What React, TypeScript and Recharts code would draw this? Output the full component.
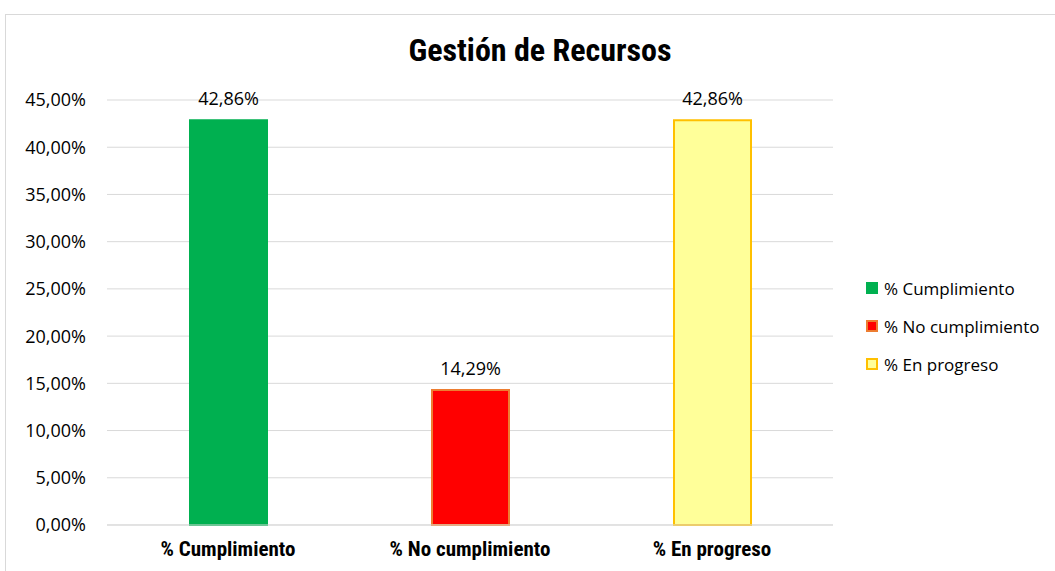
import { BarChart, Bar, CartesianGrid, XAxis, YAxis, LabelList, Cell } from "recharts";

const categories = ["% Cumplimiento", "% No cumplimiento", "% En progreso"];
const values = [0.4286, 0.1429, 0.4286];
const fills = ["#00B050", "#FF0000", "#FFFF99"];
const strokes = ["#00B050", "#ED7D31", "#FFC000"];
const yTicks = [0, 0.05, 0.1, 0.15, 0.2, 0.25, 0.3, 0.35, 0.4, 0.45];

const data = categories.map((name, i) => ({ name, value: values[i] }));

const pct = (v: number) => (v * 100).toFixed(2).replace(".", ",") + "%";

const font = "'Open Sans', 'Liberation Sans', sans-serif";
const narrow = "'Roboto Condensed', 'Liberation Sans Narrow', 'Liberation Sans', sans-serif";

const LegendBox = () => (
  <div style={{ fontFamily: font, fontSize: 17, color: "#000" }}>
    {categories.map((c, i) => (
      <div key={c} style={{ display: "flex", alignItems: "center", height: 38 }}>
        <span
          style={{
            display: "inline-block",
            width: 8,
            height: 8,
            background: fills[i],
            border: `2px solid ${strokes[i]}`,
            marginRight: 6,
          }}
        />
        {c}
      </div>
    ))}
  </div>
);

export default function App() {
  return (
    <div style={{ position: "absolute", left: 0, top: 0, width: 1055, height: 571, background: "#fff", overflow: "hidden" }}>
      <div
        style={{
          position: "absolute",
          left: 5,
          top: 14,
          width: 1060,
          height: 570,
          border: "1px solid #d9d9d9",
        }}
      />
      <div
        style={{
          position: "absolute",
          left: 0,
          width: 1080,
          top: 31,
          textAlign: "center",
          fontFamily: narrow,
          fontWeight: "bold",
          fontSize: 32,
          color: "#000",
        }}
      >
        Gestión de Recursos
      </div>
      <div style={{ position: "absolute", left: 0, top: 0 }}>
        <BarChart width={1055} height={571} data={data} margin={{ top: 100, right: 222, bottom: 0, left: 0 }}>
          <CartesianGrid vertical={false} stroke="#d9d9d9" />
          <XAxis
            dataKey="name"
            axisLine={{ stroke: "#d9d9d9" }}
            tickLine={false}
            tickSize={0}
            tickMargin={16}
            height={46}
            tick={{ fill: "#000", fontFamily: narrow, fontWeight: "bold", fontSize: 21 }}
          />
          <YAxis
            domain={[0, 0.45]}
            ticks={yTicks}
            tickFormatter={pct}
            axisLine={false}
            tickLine={false}
            tickSize={0}
            tickMargin={21}
            width={107}
            tick={{ fill: "#000", fontFamily: font, fontSize: 18 }}
          />
          <Bar dataKey="value" barSize={77} isAnimationActive={false}>
            {data.map((d, i) => (
              <Cell key={d.name} fill={fills[i]} stroke={strokes[i]} strokeWidth={2} />
            ))}
            <LabelList
              dataKey="value"
              position="top"
              offset={15}
              formatter={(v: any) => pct(v as number)}
              style={{ fill: "#000", fontFamily: font, fontSize: 18 }}
            />
          </Bar>
        </BarChart>
      </div>
      <div style={{ position: "absolute", left: 866, top: 269 }}>
        <LegendBox />
      </div>
    </div>
  );
}
